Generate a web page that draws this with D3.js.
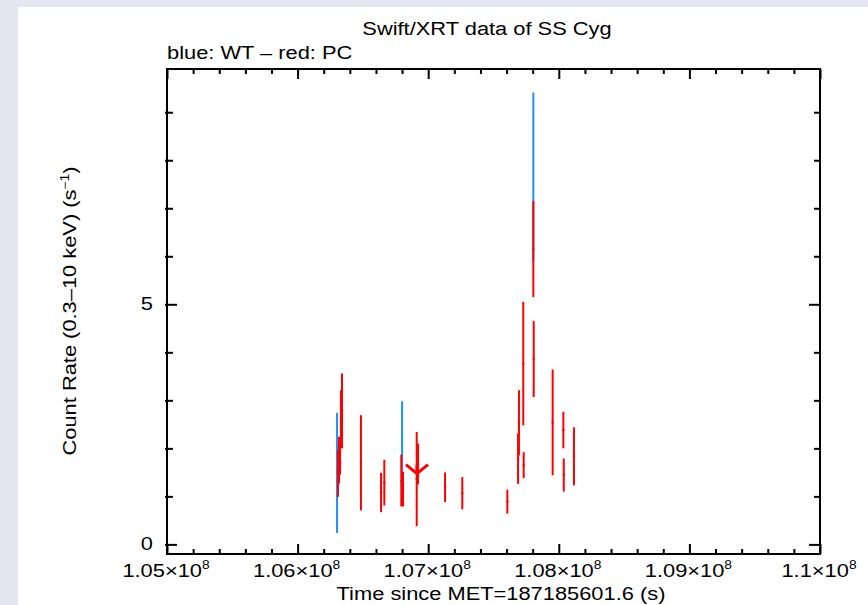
<!DOCTYPE html>
<html>
<head>
<meta charset="utf-8">
<script src="https://cdn.jsdelivr.net/npm/d3@7"></script>
<style>
  html, body { margin: 0; padding: 0; background: #e6e6f2; }
  svg { display: block; }
  text { font-family: "Liberation Sans", Arial, Helvetica, sans-serif; fill: #000; }
</style>
</head>
<body>
<div id="chart"></div>
<script>
const titleText = "Swift/XRT data of SS Cyg";
const legendText = "blue: WT \u2013 red: PC";
const xTitleText = "Time since MET=187185601.6 (s)";

const xMajorTicks = [1.05e8, 1.06e8, 1.07e8, 1.08e8, 1.09e8, 1.1e8];
const xTickMantissas = ["1.05", "1.06", "1.07", "1.08", "1.09", "1.1"];
const yMajorTicks = [0, 5];
const yTickLabels = ["0", "5"];

// WT mode (blue)
const wtTime = [1.06302e8, 1.06800e8, 1.07805e8];
const wtRate = [1.49, 2.21, 7.655];
const wtErr  = [1.25, 0.77, 1.755];

// PC mode (red)
const pcTime = [1.06309e8, 1.06317e8, 1.06325e8, 1.06332e8, 1.06340e8,
                1.06485e8, 1.06639e8, 1.06664e8, 1.06794e8, 1.06807e8,
                1.06912e8, 1.06922e8, 1.07129e8, 1.07261e8, 1.07606e8,
                1.07688e8, 1.07695e8, 1.07728e8, 1.07731e8, 1.07805e8,
                1.07808e8, 1.07953e8, 1.08035e8, 1.08038e8, 1.08116e8];
const pcRate = [1.475, 1.755, 1.725, 2.605, 2.78,
                1.70, 1.08, 1.285, 1.33, 1.15,
                1.36, 1.675, 1.19, 1.065, 0.89,
                1.785, 2.53, 3.765, 1.65, 6.15,
                3.86, 2.54, 2.38, 1.445, 1.835];
const pcErr  = [0.485, 0.485, 0.275, 0.605, 0.78,
                0.99, 0.41, 0.475, 0.54, 0.36,
                0.98, 0.425, 0.31, 0.335, 0.25,
                0.525, 0.68, 1.285, 0.27, 1.0,
                0.79, 1.10, 0.38, 0.345, 0.605];
const pcTimeErr = 9000;

// PC upper limit
const pcLimitTime = [1.06914e8];
const pcLimitRate = [1.66];

(function () {
  const width = 868, height = 605;
  const left = 167, right = 820, top = 69, bottom = 554;
  const blue = "#1e8fff", red = "#ff0000";
  const stretch = 1.15; // glyphs in the reference are a bit wider than Liberation Sans

  let svg = d3.select("#chart").append("svg")
    .attr("width", width)
    .attr("height", height);

  svg.append("rect")
    .attr("x", 18).attr("y", 7)
    .attr("width", width - 18).attr("height", height - 7)
    .attr("fill", "#fff");

  let x = d3.scaleLinear().domain([1.05e8, 1.1e8]).range([left, right]);
  let y = d3.scaleLinear().domain([-0.2, 9.9]).range([bottom, top]);

  let xMinor = d3.range(1.05e8, 1.1e8 + 1, 2e5).filter(v => Math.round(v / 2e5) % 5 !== 0);
  let yMinor = d3.range(0, 10).filter(v => v % 5 !== 0);

  function addTicks(axis, transform) {
    let g = svg.append("g").attr("transform", transform).call(axis);
    g.select(".domain").remove();
    g.selectAll(".tick line").attr("stroke", "#000").attr("stroke-width", 2);
    g.selectAll(".tick text").remove();
  }

  // x ticks, bottom and top, pointing inward
  addTicks(d3.axisBottom(x).tickValues(xMajorTicks).tickSize(-10), `translate(0,${bottom})`);
  addTicks(d3.axisBottom(x).tickValues(xMinor).tickSize(-5), `translate(0,${bottom})`);
  addTicks(d3.axisTop(x).tickValues(xMajorTicks).tickSize(-10), `translate(0,${top})`);
  addTicks(d3.axisTop(x).tickValues(xMinor).tickSize(-5), `translate(0,${top})`);
  // y ticks, left and right
  addTicks(d3.axisLeft(y).tickValues(yMajorTicks).tickSize(-12), `translate(${left - 2},0)`);
  addTicks(d3.axisLeft(y).tickValues(yMinor).tickSize(-8), `translate(${left - 2},0)`);
  addTicks(d3.axisRight(y).tickValues(yMajorTicks).tickSize(-11), `translate(${right},0)`);
  addTicks(d3.axisRight(y).tickValues(yMinor).tickSize(-6), `translate(${right},0)`);

  svg.append("rect")
    .attr("x", left).attr("y", top)
    .attr("width", right - left).attr("height", bottom - top)
    .attr("fill", "none")
    .attr("stroke", "#000")
    .attr("stroke-width", 2);

  function addText(px, py, anchor, rotate) {
    return svg.append("text")
      .attr("transform", `translate(${px},${py})` + (rotate ? ` rotate(${rotate})` : "") + ` scale(${stretch},1)`)
      .attr("text-anchor", anchor)
      .attr("font-size", 19);
  }

  addText(487, 35, "middle").text(titleText);
  addText(left, 59, "start").text(legendText);
  addText(501, 600, "middle").text(xTitleText);

  let yt = addText(76, 311, "middle", -90).text("Count Rate (0.3\u201310 keV) (s");
  yt.append("tspan").attr("dy", -7).attr("font-size", 12).text("\u22121");
  yt.append("tspan").attr("dy", 7).text(")");

  xMajorTicks.forEach((v, i) => {
    let t = addText(x(v) - 1, 577, "middle").text(xTickMantissas[i] + "\u00d710");
    t.append("tspan").attr("dy", -8).attr("font-size", 12).text("8");
  });
  yMajorTicks.forEach((v, i) => {
    addText(left - 14, y(v) + 6, "end").text(yTickLabels[i]);
  });

  function drawSeries(times, rates, errs, color, timeErr) {
    let g = svg.append("g")
      .attr("stroke", color)
      .attr("stroke-width", 2)
      .attr("fill", "none");
    g.selectAll("line.err").data(times).join("line")
      .attr("class", "err")
      .attr("x1", d => x(d)).attr("x2", d => x(d))
      .attr("y1", (d, i) => y(rates[i] - errs[i]))
      .attr("y2", (d, i) => y(rates[i] + errs[i]));
    if (timeErr) {
      g.selectAll("line.bin").data(times).join("line")
        .attr("class", "bin")
        .attr("stroke-width", 1.5)
        .attr("x1", d => x(d - timeErr)).attr("x2", d => x(d + timeErr))
        .attr("y1", (d, i) => y(rates[i]))
        .attr("y2", (d, i) => y(rates[i]));
    }
  }

  drawSeries(wtTime, wtRate, wtErr, blue, 0);
  drawSeries(pcTime, pcRate, pcErr, red, pcTimeErr);

  // upper limit arrow
  let ul = svg.append("g")
    .attr("stroke", red)
    .attr("stroke-width", 3)
    .attr("fill", "none")
    .attr("stroke-linejoin", "round");
  pcLimitTime.forEach((t, i) => {
    let px = x(t), py = y(pcLimitRate[i]);
    ul.append("path")
      .attr("d", `M${px},${py} L${px},${py + 9} M${px - 11},${py} L${px},${py + 9} L${px + 11},${py}`);
  });
})();
</script>
</body>
</html>
